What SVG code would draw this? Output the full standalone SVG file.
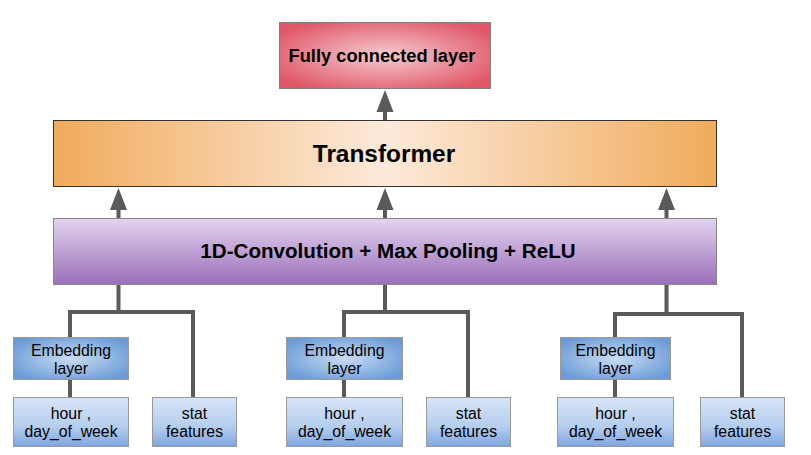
<svg xmlns="http://www.w3.org/2000/svg" width="811" height="455" viewBox="0 0 811 455">
<defs>
<radialGradient id="gFC" cx="0.5" cy="0.5" r="0.6" gradientTransform="translate(0.5 0.5) scale(1 1) translate(-0.5 -0.5)">
<stop offset="0" stop-color="#f6ccd2"/>
<stop offset="1" stop-color="#e05868"/>
</radialGradient>
<linearGradient id="gTr" x1="0" y1="0" x2="1" y2="0">
<stop offset="0" stop-color="#f0ab5b"/>
<stop offset="0.5" stop-color="#fdeadb"/>
<stop offset="1" stop-color="#f0ab5b"/>
</linearGradient>
<linearGradient id="gConv" x1="0" y1="0" x2="0" y2="1">
<stop offset="0" stop-color="#e3d4ef"/>
<stop offset="1" stop-color="#9a6fba"/>
</linearGradient>
<radialGradient id="gEmb" cx="0.5" cy="0.5" r="0.6">
<stop offset="0" stop-color="#c8dcf4"/>
<stop offset="1" stop-color="#6b9bd7"/>
</radialGradient>
<linearGradient id="gIn" x1="0" y1="0" x2="0" y2="1">
<stop offset="0" stop-color="#d7e5f7"/>
<stop offset="0.6" stop-color="#b4cdef"/>
<stop offset="1" stop-color="#7ea6dd"/>
</linearGradient>
<marker id="ah" markerUnits="userSpaceOnUse" markerWidth="22" markerHeight="18" refX="0" refY="8.5" orient="auto" viewBox="0 0 22 17">
<path d="M0,0 L22,8.5 L0,17 z" fill="#5a5a5a"/>
</marker>
<style>
.t{font-family:"Liberation Sans",Arial,sans-serif;fill:#000;text-anchor:middle}
.b{font-weight:bold}
.s{font-size:15.8px}
.c{fill:none;stroke:#5a5a5a;stroke-width:4}
.bx{stroke:#999;stroke-width:1}
</style>
</defs>
<g id="connectors">
<path class="c" d="M385,120 V112" marker-end="url(#ah)"/>
<path class="c" d="M118.5,218 V210" marker-end="url(#ah)"/>
<path class="c" d="M385,218 V210" marker-end="url(#ah)"/>
<path class="c" d="M666.5,218 V210" marker-end="url(#ah)"/>
<path class="c" d="M118.5,285 V312 M70,337 V312 H193 V397 M70,380 V397"/>
<path class="c" d="M385,285 V312 M344,337 V312 H468 V397 M344,380 V397"/>
<path class="c" d="M666.5,285 V314 M615,337 V314 H742 V397 M615,380 V397"/>
</g>
<g id="fc">
<rect x="279.5" y="22.5" width="211" height="66" fill="url(#gFC)" stroke="#808080"/>
<text class="t b" x="382" y="62" font-size="18.3">Fully connected layer</text>
</g>
<g id="transformer">
<rect x="53.5" y="120.5" width="663" height="66" fill="url(#gTr)" stroke="#333"/>
<text class="t b" x="384" y="162" font-size="24.4">Transformer</text>
</g>
<g id="conv">
<rect x="53.5" y="218.5" width="663" height="66" fill="url(#gConv)" stroke="#888"/>
<text class="t b" x="388" y="258" font-size="20.6">1D-Convolution + Max Pooling + ReLU</text>
</g>
<g id="emb1">
<rect class="bx" x="13.5" y="337.5" width="115" height="42" fill="url(#gEmb)"/>
<text class="t s" x="71" y="356">Embedding</text>
<text class="t s" x="71" y="374">layer</text>
</g>
<g id="in1">
<rect class="bx" x="13.5" y="397.5" width="115" height="49" fill="url(#gIn)"/>
<text class="t s" x="71" y="419">hour ,</text>
<text class="t s" x="71" y="437">day_of_week</text>
</g>
<g id="stat1">
<rect class="bx" x="152.5" y="397.5" width="84" height="49" fill="url(#gIn)"/>
<text class="t s" x="194.5" y="419">stat</text>
<text class="t s" x="194.5" y="437">features</text>
</g>
<g id="emb2">
<rect class="bx" x="286.5" y="337.5" width="116" height="42" fill="url(#gEmb)"/>
<text class="t s" x="344.5" y="356">Embedding</text>
<text class="t s" x="344.5" y="374">layer</text>
</g>
<g id="in2">
<rect class="bx" x="286.5" y="397.5" width="116" height="49" fill="url(#gIn)"/>
<text class="t s" x="344.5" y="419">hour ,</text>
<text class="t s" x="344.5" y="437">day_of_week</text>
</g>
<g id="stat2">
<rect class="bx" x="426.5" y="397.5" width="84" height="49" fill="url(#gIn)"/>
<text class="t s" x="468.5" y="419">stat</text>
<text class="t s" x="468.5" y="437">features</text>
</g>
<g id="emb3">
<rect class="bx" x="560.5" y="337.5" width="110" height="42" fill="url(#gEmb)"/>
<text class="t s" x="615.5" y="356">Embedding</text>
<text class="t s" x="615.5" y="374">layer</text>
</g>
<g id="in3">
<rect class="bx" x="557.5" y="397.5" width="116" height="49" fill="url(#gIn)"/>
<text class="t s" x="615.5" y="419">hour ,</text>
<text class="t s" x="615.5" y="437">day_of_week</text>
</g>
<g id="stat3">
<rect class="bx" x="700.5" y="397.5" width="84" height="49" fill="url(#gIn)"/>
<text class="t s" x="742.5" y="419">stat</text>
<text class="t s" x="742.5" y="437">features</text>
</g>
</svg>
